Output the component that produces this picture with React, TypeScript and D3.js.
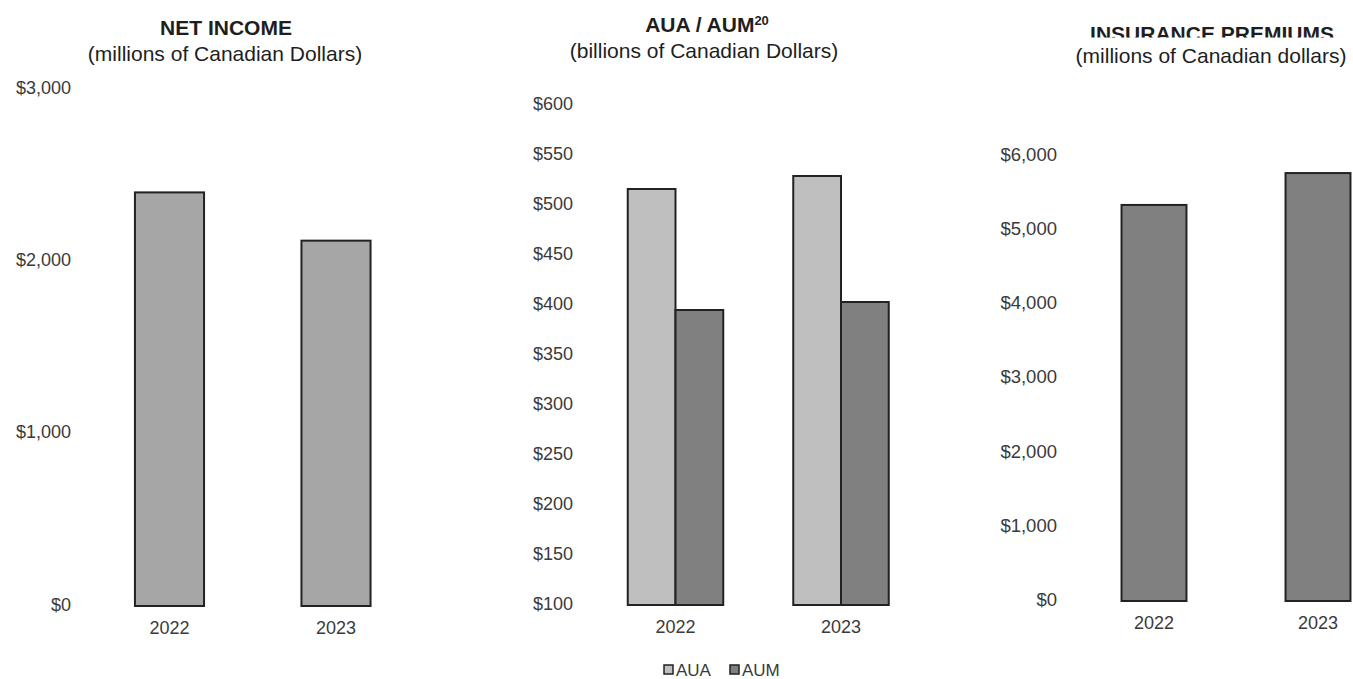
import React from "react";
import * as d3 from "d3";

// Categories and series values
const years = ["2022", "2023"];
const netIncome = [2400, 2120];
const auaValues = [516, 529];
const aumValues = [395, 403];
const premiums = [5340, 5770];
const assetSeries = ["AUA", "AUM"];

// Tick values
const netIncomeTicks = [0, 1000, 2000, 3000];
const assetTicks = [100, 150, 200, 250, 300, 350, 400, 450, 500, 550, 600];
const premiumTicks = [0, 1000, 2000, 3000, 4000, 5000, 6000];

const W = 1353;
const H = 679;
const FONT = "'Liberation Sans', Arial, sans-serif";
const TICK_COLOR = "#3a3a3a";
const TITLE_COLOR = "#1e1e1e";
const STROKE = "#222";
const fmt = d3.format("$,");

const seriesColor: Record<string, string> = { AUA: "#bfbfbf", AUM: "#808080" };

type YAxisProps = {
  ticks: number[];
  y: d3.ScaleLinear<number, number>;
  x: number;
  size?: number;
};

function YLabels({ ticks, y, x, size = 18 }: YAxisProps) {
  return (
    <g>
      {ticks.map((t) => (
        <text
          key={t}
          x={x}
          y={y(t)}
          textAnchor="end"
          dominantBaseline="middle"
          fontSize={size}
          fill={TICK_COLOR}
        >
          {fmt(t)}
        </text>
      ))}
    </g>
  );
}

function XLabels({ x, y }: { x: d3.ScaleBand<string>; y: number }) {
  return (
    <g>
      {years.map((yr) => (
        <text
          key={yr}
          x={(x(yr) ?? 0) + x.bandwidth() / 2}
          y={y}
          textAnchor="middle"
          fontSize={18}
          fill={TICK_COLOR}
        >
          {yr}
        </text>
      ))}
    </g>
  );
}

export default function App() {
  // Panel 1: net income
  const x1 = d3
    .scaleBand<string>()
    .domain(years)
    .range([86.25, 419.25])
    .paddingInner(0.585)
    .paddingOuter(0.2925);
  const y1 = d3.scaleLinear().domain([0, 3000]).range([606, 89]);

  // Panel 2: assets under administration / management
  const x2 = d3
    .scaleBand<string>()
    .domain(years)
    .range([592.75, 923.75])
    .paddingInner(0.423)
    .paddingOuter(0.2115);
  const x2s = d3.scaleBand<string>().domain(assetSeries).range([0, x2.bandwidth()]);
  const y2 = d3.scaleLinear().domain([100, 600]).range([605, 105]);
  const assetData: Record<string, number[]> = { AUA: auaValues, AUM: aumValues };

  // Panel 3: insurance premiums
  const x3 = d3
    .scaleBand<string>()
    .domain(years)
    .range([1072, 1400])
    .paddingInner(0.604)
    .paddingOuter(0.302);
  const y3 = d3.scaleLinear().domain([0, 6000]).range([601, 156]);

  return (
    <svg
      width={W}
      height={H}
      viewBox={`0 0 ${W} ${H}`}
      style={{ position: "absolute", left: 0, top: 0, background: "#fff" }}
      fontFamily={FONT}
    >
      <defs>
        <clipPath id="premTitleClip">
          <rect x={950} y={0} width={403} height={37.5} />
        </clipPath>
      </defs>
      <rect width={W} height={H} fill="#fff" />

      {/* Net income */}
      <text x={226} y={35} textAnchor="middle" fontSize={21} fontWeight="bold" fill={TITLE_COLOR}>
        NET INCOME
      </text>
      <text x={225} y={61} textAnchor="middle" fontSize={21} fill={TITLE_COLOR}>
        (millions of Canadian Dollars)
      </text>
      <YLabels ticks={netIncomeTicks} y={y1} x={71} />
      {years.map((yr, i) => (
        <rect
          key={yr}
          x={x1(yr)}
          y={y1(netIncome[i])}
          width={x1.bandwidth()}
          height={y1(0) - y1(netIncome[i])}
          fill="#a6a6a6"
          stroke={STROKE}
          strokeWidth={2}
        />
      ))}
      <XLabels x={x1} y={634} />

      {/* AUA / AUM */}
      <text x={707} y={32} textAnchor="middle" fontSize={21} fontWeight="bold" fill={TITLE_COLOR}>
        AUA / AUM
        <tspan fontSize={13} dy={-7}>
          20
        </tspan>
      </text>
      <text x={704} y={58} textAnchor="middle" fontSize={21} fill={TITLE_COLOR}>
        (billions of Canadian Dollars)
      </text>
      <YLabels ticks={assetTicks} y={y2} x={573} />
      {years.map((yr, i) => (
        <g key={yr} transform={`translate(${x2(yr)},0)`}>
          {assetSeries.map((s) => (
            <rect
              key={s}
              x={x2s(s)}
              y={y2(assetData[s][i])}
              width={x2s.bandwidth()}
              height={y2(100) - y2(assetData[s][i])}
              fill={seriesColor[s]}
              stroke={STROKE}
              strokeWidth={2}
            />
          ))}
        </g>
      ))}
      <XLabels x={x2} y={633} />
      {/* Legend */}
      <g fontSize={17} fill={TICK_COLOR}>
        {assetSeries.map((s, i) => {
          const lx = 664 + i * 66;
          return (
            <g key={s}>
              <rect x={lx} y={665} width={9} height={9} fill={seriesColor[s]} stroke={STROKE} strokeWidth={1.5} />
              <text x={lx + 12} y={676}>
                {s}
              </text>
            </g>
          );
        })}
      </g>

      {/* Insurance premiums */}
      <text
        x={1212}
        y={41}
        textAnchor="middle"
        fontSize={21}
        fontWeight="bold"
        fill={TITLE_COLOR}
        clipPath="url(#premTitleClip)"
      >
        INSURANCE PREMIUMS
      </text>
      <text x={1211} y={63} textAnchor="middle" fontSize={21} fill={TITLE_COLOR}>
        (millions of Canadian dollars)
      </text>
      <YLabels ticks={premiumTicks} y={y3} x={1057} size={18.5} />
      {years.map((yr, i) => (
        <rect
          key={yr}
          x={x3(yr)}
          y={y3(premiums[i])}
          width={x3.bandwidth()}
          height={y3(0) - y3(premiums[i])}
          fill="#808080"
          stroke={STROKE}
          strokeWidth={2}
        />
      ))}
      <XLabels x={x3} y={629} />
    </svg>
  );
}
